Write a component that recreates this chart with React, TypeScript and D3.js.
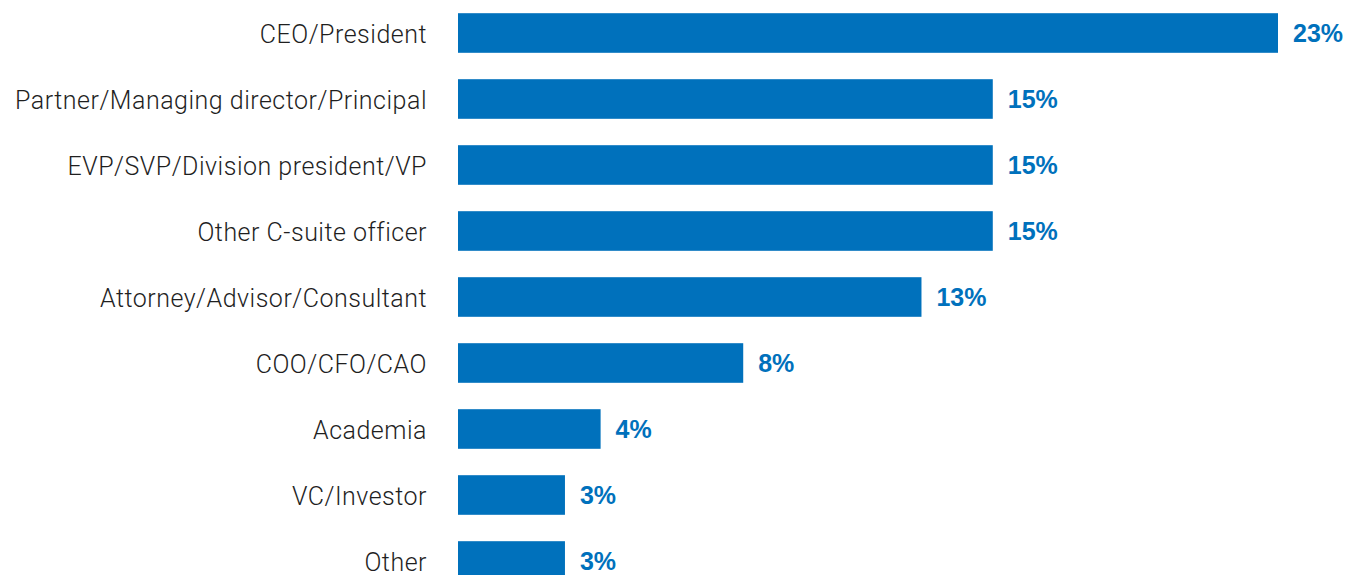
import React from "react";
import * as d3 from "d3";

const categories = [
  "CEO/President",
  "Partner/Managing director/Principal",
  "EVP/SVP/Division president/VP",
  "Other C-suite officer",
  "Attorney/Advisor/Consultant",
  "COO/CFO/CAO",
  "Academia",
  "VC/Investor",
  "Other",
];
const values = [23, 15, 15, 15, 13, 8, 4, 3, 3];

const W = 1348;
const H = 575;

export default function App() {
  const x = d3.scaleLinear().domain([0, 23]).range([458, 1278]);
  const y = d3
    .scaleBand<string>()
    .domain(categories)
    .range([0, 9 * 66])
    .paddingInner(0.4)
    .paddingOuter(0.2);
  const bw = y.bandwidth();
  return (
    <svg
      width={W}
      height={H}
      style={{ position: "absolute", left: 0, top: 0, display: "block" }}
    >
      <rect x={0} y={0} width={W} height={H} fill="#ffffff" />
      {categories.map((c, i) => {
        const yy = y(c)!;
        const cy = yy + bw / 2;
        return (
          <g key={c}>
            <rect
              x={x(0)}
              y={yy}
              width={x(values[i]) - x(0)}
              height={bw}
              fill="#0071bc"
            />
            <text
              x={427}
              y={cy + 9.5}
              textAnchor="end"
              fontFamily="Roboto, 'Liberation Sans', sans-serif"
              fontWeight={300}
              fontSize={25}
              letterSpacing={0.5}
              fill="#1f1f1f"
            >
              {c}
            </text>
            <text
              x={x(values[i]) + 15}
              y={cy + 9}
              textAnchor="start"
              fontFamily="'Liberation Sans', Arial, sans-serif"
              fontWeight={700}
              fontSize={25}
              fill="#0071bc"
            >
              {values[i]}%
            </text>
          </g>
        );
      })}
    </svg>
  );
}
